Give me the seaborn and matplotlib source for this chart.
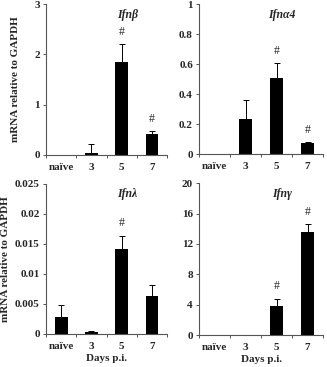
import numpy as np
import pandas as pd
import matplotlib
matplotlib.use("Agg")
import matplotlib.pyplot as plt
import seaborn as sns
from matplotlib.ticker import FuncFormatter

days = ["naïve", "3", "5", "7"]

ifnb_mean = [0.005, 0.03, 1.85, 0.42]
ifnb_err = [0.0, 0.19, 0.35, 0.05]
ifnb_sig = [False, False, True, True]

ifna4_mean = [0.002, 0.235, 0.505, 0.075]
ifna4_err = [0.0, 0.125, 0.10, 0.005]
ifna4_sig = [False, False, True, True]

ifnl_mean = [0.0029, 0.0003, 0.0141, 0.0064]
ifnl_err = [0.0020, 0.0002, 0.0023, 0.0018]
ifnl_sig = [False, False, True, False]

ifng_mean = [0.0, 0.02, 3.8, 13.6]
ifng_err = [0.0, 0.0, 1.0, 1.0]
ifng_sig = [False, False, True, True]

panels = [
    ("Ifn\u03b2", ifnb_mean, ifnb_err, ifnb_sig, [0, 1, 2, 3]),
    ("Ifn\u03b14", ifna4_mean, ifna4_err, ifna4_sig, [0, 0.2, 0.4, 0.6, 0.8, 1]),
    ("Ifn\u03bb", ifnl_mean, ifnl_err, ifnl_sig, [0, 0.005, 0.01, 0.015, 0.02, 0.025]),
    ("Ifn\u03b3", ifng_mean, ifng_err, ifng_sig, [0, 4, 8, 12, 16, 20]),
]

# axes boxes in figure fractions (left, bottom, width, height)
boxes = [
    [0.141, 0.578, 0.370, 0.411],
    [0.609, 0.580, 0.379, 0.409],
    [0.141, 0.090, 0.370, 0.409],
    [0.609, 0.087, 0.379, 0.414],
]
ylabel_x = {0: -0.215, 2: -0.295}

sns.set_style("white")
plt.rcParams["font.family"] = ["Liberation Serif", "DejaVu Serif"]
plt.rcParams["font.weight"] = "bold"

fig = plt.figure(figsize=(3.27, 3.67), dpi=100, facecolor="white")

axis_col = "#555555"
fs = 8

for i, (title, mean, err, sig, yticks) in enumerate(panels):
    ax = fig.add_axes(boxes[i])
    df = pd.DataFrame({"day": days, "value": mean})
    sns.barplot(data=df, x="day", y="value", color="black", width=0.42,
                errorbar=None, ax=ax, saturation=1, linewidth=0)
    x = np.arange(len(days))
    ax.errorbar(x, mean, yerr=[np.zeros(len(err)), err], fmt="none",
                ecolor="black", elinewidth=0.7, capsize=2.5, capthick=0.7)
    for xi, m, e, s in zip(x, mean, err, sig):
        if s:
            ax.annotate("#", xy=(xi, m + e), xytext=(0, 9), textcoords="offset points",
                        ha="center", va="center", fontsize=8.5, fontweight="normal")

    ymax = yticks[-1]
    ax.set_ylim(0, ymax)
    ax.set_xlim(-0.5, 3.5)
    ax.set_yticks(yticks)
    ax.yaxis.set_major_formatter(FuncFormatter(lambda v, p: f"{v:g}"))
    ax.set_xticks(x)
    ax.set_xticks(np.arange(-0.5, 4.0, 1.0), minor=True)
    ax.tick_params(axis="x", which="major", length=0, pad=6, labelsize=fs)
    ax.tick_params(axis="x", which="minor", length=2.5, width=0.7, color=axis_col, direction="out")
    ax.tick_params(axis="y", which="major", length=2.5, width=0.7, color=axis_col,
                   direction="out", labelsize=fs, pad=2)
    ax.tick_params(left=True, bottom=True, which="both")
    for lab in ax.get_xticklabels() + ax.get_yticklabels():
        lab.set_fontweight("bold")

    sns.despine(ax=ax)
    for side in ["left", "bottom"]:
        ax.spines[side].set_color(axis_col)
        ax.spines[side].set_linewidth(0.8)

    ax.text(0.67, 0.93, title, transform=ax.transAxes, ha="center", va="center",
            fontsize=8.5, fontweight="bold", fontstyle="italic")

    ax.set_xlabel("Days p.i." if i >= 2 else "", fontsize=fs, fontweight="bold", labelpad=2)
    if i % 2 == 0:
        ax.set_ylabel("mRNA relative to GAPDH", fontsize=fs, fontweight="bold")
        ax.yaxis.set_label_coords(ylabel_x[i], 0.5)
    else:
        ax.set_ylabel("")

fig.savefig("out.png", dpi=100, facecolor="white")
